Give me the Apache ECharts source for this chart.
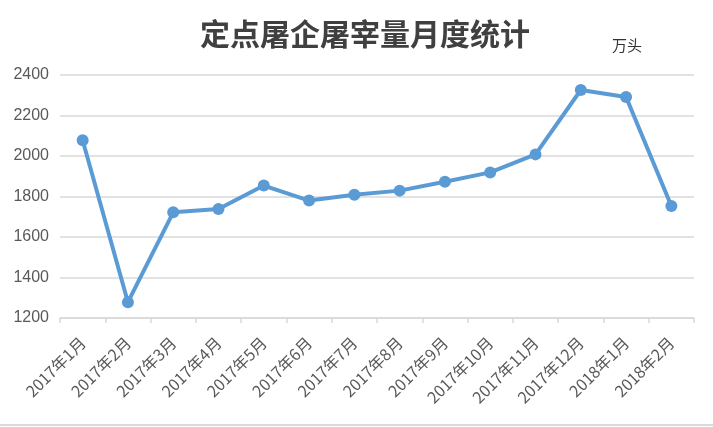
<!DOCTYPE html>
<html>
<head>
<meta charset="utf-8">
<script src="https://cdn.jsdelivr.net/npm/echarts@6/dist/echarts.min.js"></script>
<style>html,body{margin:0;padding:0;background:#fff}#c{width:713px;height:427px}</style>
</head>
<body>
<div id="c"></div>
<script>
const categories = ['2017年1月','2017年2月','2017年3月','2017年4月','2017年5月','2017年6月','2017年7月','2017年8月','2017年9月','2017年10月','2017年11月','2017年12月','2018年1月','2018年2月'];
const values = [2078, 1278, 1722, 1738, 1854, 1780, 1809, 1829, 1873, 1919, 2008, 2326, 2291, 1753];
const yMin = 1200, yMax = 2400, yStep = 200;

const chart = echarts.init(document.getElementById('c'));
chart.setOption({
  animation: false,
  backgroundColor: '#fff',
  title: {
    text: '定点屠企屠宰量月度统计',
    left: 360, top: 14, textAlign: 'center',
    textStyle: { fontFamily: 'Noto Sans CJK SC', fontSize: 30, fontWeight: 'bold', color: '#404040' }
  },
  graphic: [
    { type: 'text', left: 612, top: 38, style: { text: '万头', font: '15px "Noto Sans CJK SC"', fill: '#333' } },
    { type: 'line', shape: { x1: 0, y1: 425, x2: 713, y2: 425 }, style: { stroke: '#d9d9d9', lineWidth: 2 } }
  ],
  grid: { left: 60, right: 19, top: 75, bottom: 109 },
  xAxis: {
    type: 'category', data: categories, boundaryGap: true,
    axisLine: { lineStyle: { color: '#d9d9d9', width: 1.5 } },
    axisTick: { show: true, length: 5, lineStyle: { color: '#d9d9d9', width: 1.5 } },
    axisLabel: { rotate: 45, interval: 0, fontSize: 16, color: '#595959', fontFamily: 'Noto Sans CJK SC', margin: 22 }
  },
  yAxis: {
    type: 'value', min: yMin, max: yMax, interval: yStep,
    axisLine: { show: false }, axisTick: { show: false },
    axisLabel: { fontSize: 16, color: '#595959', fontFamily: 'Liberation Sans', margin: 11, formatter: v => String(v) },
    splitLine: { lineStyle: { color: '#d9d9d9', width: 1.5 } }
  },
  series: [{
    type: 'line', data: values,
    symbol: 'circle', symbolSize: 12,
    lineStyle: { color: '#5b9bd5', width: 4 },
    itemStyle: { color: '#5b9bd5' }
  }]
});
</script>
</body>
</html>
